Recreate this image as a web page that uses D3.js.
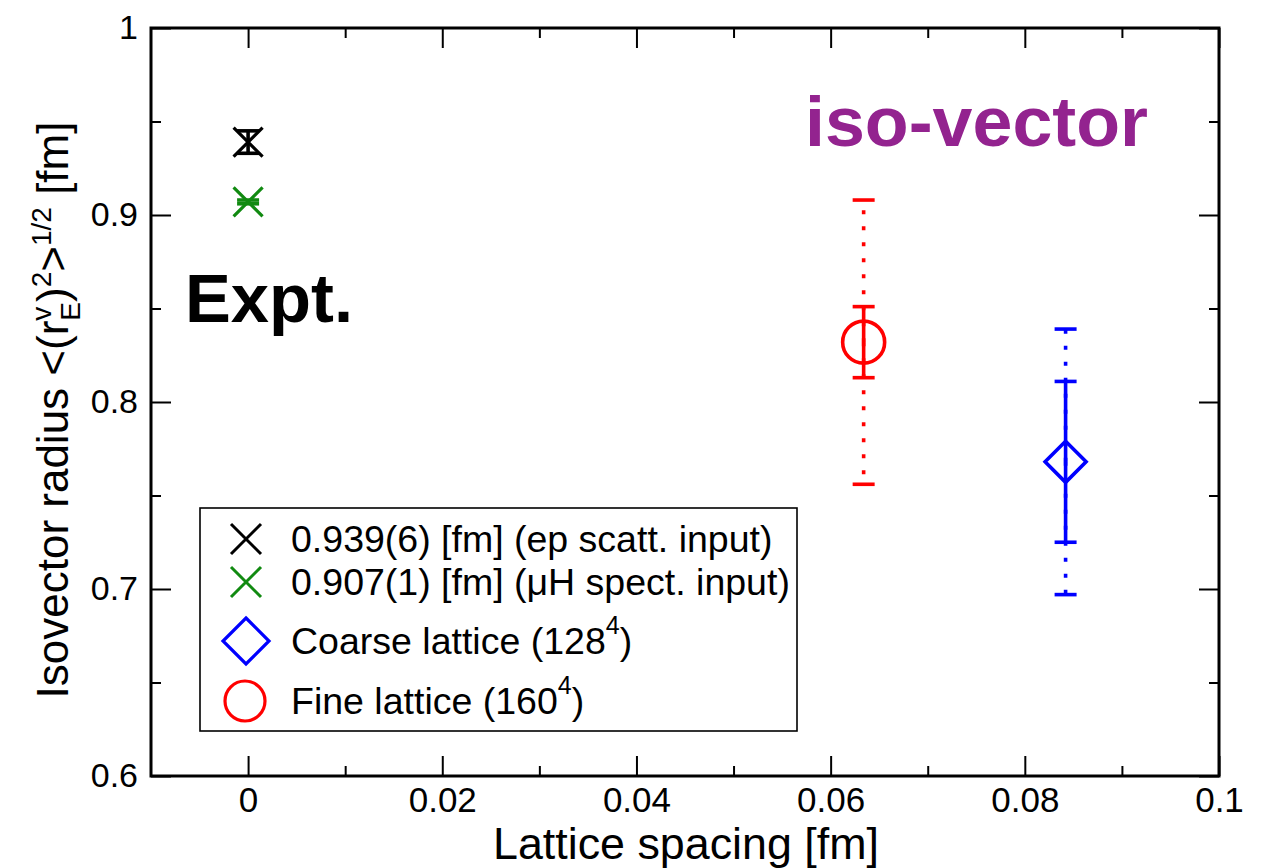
<!DOCTYPE html>
<html>
<head>
<meta charset="utf-8">
<script src="https://cdn.jsdelivr.net/npm/d3@7"></script>
<style>
  html, body { margin: 0; padding: 0; background: #fff; }
  svg { display: block; }
  text { font-family: "Liberation Sans", Arial, Helvetica, sans-serif; }
</style>
</head>
<body>
<svg id="chart" width="1277" height="868"></svg>
<script>
// Experimental inputs (plotted at zero lattice spacing)
const exptLabels  = ["0.939(6) [fm] (ep scatt. input)", "0.907(1) [fm] (\u03bcH spect. input)"];
const exptSpacing = [0, 0];
const exptRadius  = [0.939, 0.907];
const exptError   = [0.006, 0.001];
const exptColors  = ["#000000", "#118a11"];

// Lattice results: coarse (128^4) and fine (160^4)
const latticeNames    = ["Coarse lattice (128", "Fine lattice (160"];
const latticeSpacing  = [0.0842, 0.0634];
const latticeRadius   = [0.768, 0.832];
const latticeStatErr  = [0.043, 0.019];
const latticeTotalErr = [0.071, 0.076];
const latticeColors   = ["#0000ff", "#ff0000"];
const latticeShapes   = ["diamond", "circle"];

// Axis ticks
const xMajorTicks  = [0, 0.02, 0.04, 0.06, 0.08, 0.1];
const xTickLabels  = ["0", "0.02", "0.04", "0.06", "0.08", "0.1"];
const xMinorTicks  = [0.01, 0.03, 0.05, 0.07, 0.09];
const yMajorTicks  = [0.6, 0.7, 0.8, 0.9, 1.0];
const yTickLabels  = ["0.6", "0.7", "0.8", "0.9", "1"];
const yMinorTicks  = [0.65, 0.75, 0.85, 0.95];

const svg = d3.select("#chart");
const plotLeft = 151, plotRight = 1219, plotTop = 28, plotBottom = 776;

const x = d3.scaleLinear().domain([-0.01, 0.1]).range([plotLeft, plotRight]);
const y = d3.scaleLinear().domain([0.6, 1.0]).range([plotBottom, plotTop]);

// ---- axes (ticks pointing inward on all four sides)
function styleAxis(g, fontSize) {
  g.select(".domain").remove();
  g.selectAll(".tick line").attr("stroke", "#000").attr("stroke-width", 2);
  g.selectAll(".tick text").attr("fill", "#000")
    .style("font-family", '"Liberation Sans", Arial, Helvetica, sans-serif')
    .style("font-size", fontSize + "px");
}

svg.append("g").attr("transform", `translate(0,${plotBottom})`)
  .call(d3.axisBottom(x).tickValues(xMajorTicks).tickSize(-20).tickPadding(11)
    .tickFormat((d, i) => xTickLabels[i]))
  .call(g => styleAxis(g, 35));
svg.append("g").attr("transform", `translate(0,${plotBottom})`)
  .call(d3.axisBottom(x).tickValues(xMinorTicks).tickSize(-10).tickFormat(""))
  .call(g => styleAxis(g, 35));
svg.append("g").attr("transform", `translate(0,${plotTop})`)
  .call(d3.axisTop(x).tickValues(xMajorTicks).tickSize(-20).tickFormat(""))
  .call(g => styleAxis(g, 35));
svg.append("g").attr("transform", `translate(0,${plotTop})`)
  .call(d3.axisTop(x).tickValues(xMinorTicks).tickSize(-10).tickFormat(""))
  .call(g => styleAxis(g, 35));

svg.append("g").attr("transform", `translate(${plotLeft},0)`)
  .call(d3.axisLeft(y).tickValues(yMajorTicks).tickSize(-20).tickPadding(13)
    .tickFormat((d, i) => yTickLabels[i]))
  .call(g => styleAxis(g, 34));
svg.append("g").attr("transform", `translate(${plotLeft},0)`)
  .call(d3.axisLeft(y).tickValues(yMinorTicks).tickSize(-10).tickFormat(""))
  .call(g => styleAxis(g, 34));
svg.append("g").attr("transform", `translate(${plotRight},0)`)
  .call(d3.axisRight(y).tickValues(yMajorTicks).tickSize(-20).tickFormat(""))
  .call(g => styleAxis(g, 34));
svg.append("g").attr("transform", `translate(${plotRight},0)`)
  .call(d3.axisRight(y).tickValues(yMinorTicks).tickSize(-10).tickFormat(""))
  .call(g => styleAxis(g, 34));

// frame
svg.append("rect")
  .attr("x", plotLeft).attr("y", plotTop)
  .attr("width", plotRight - plotLeft).attr("height", plotBottom - plotTop)
  .attr("fill", "none").attr("stroke", "#000").attr("stroke-width", 3);

// ---- axis titles
svg.append("text")
  .attr("x", (plotLeft + plotRight) / 2 + 1).attr("y", 859)
  .attr("text-anchor", "middle")
  .style("font-size", "44px")
  .attr("textLength", 386).attr("lengthAdjust", "spacingAndGlyphs")
  .text("Lattice spacing [fm]");

const yTitle = svg.append("text")
  .attr("transform", `translate(68,${(plotTop + plotBottom) / 2 + 8}) rotate(-90)`)
  .attr("text-anchor", "middle")
  .style("font-size", "44px");
yTitle.append("tspan").text("Isovector radius <(r");
yTitle.append("tspan").attr("dy", -17).style("font-size", "28px").text("v");
yTitle.append("tspan").attr("dx", -14).attr("dy", 29).style("font-size", "28px").text("E");
yTitle.append("tspan").attr("dy", -12).text(")");
yTitle.append("tspan").attr("dy", -17).style("font-size", "28px").text("2");
yTitle.append("tspan").attr("dy", 17).text(">");
yTitle.append("tspan").attr("dy", -17).style("font-size", "28px").text("1/2");
yTitle.append("tspan").attr("dy", 17).text(" [fm]");

// ---- annotations
svg.append("text")
  .attr("x", 185).attr("y", 322)
  .style("font-size", "68px").style("font-weight", "bold")
  .attr("textLength", 168).attr("lengthAdjust", "spacingAndGlyphs")
  .text("Expt.");

svg.append("text")
  .attr("x", 805).attr("y", 146)
  .style("font-size", "71px").style("font-weight", "bold")
  .attr("fill", "#93238f")
  .attr("textLength", 343).attr("lengthAdjust", "spacingAndGlyphs")
  .text("iso-vector");

// ---- marker drawing helpers
const capHalf = 11;
function cross(g, cx, cy, h, color, sw) {
  g.append("path")
    .attr("d", `M${cx - h},${cy - h}L${cx + h},${cy + h}M${cx - h},${cy + h}L${cx + h},${cy - h}`)
    .attr("stroke", color).attr("stroke-width", sw).attr("fill", "none");
}
function diamond(g, cx, cy, h, color, sw) {
  g.append("path")
    .attr("d", `M${cx},${cy - h}L${cx + h},${cy}L${cx},${cy + h}L${cx - h},${cy}Z`)
    .attr("stroke", color).attr("stroke-width", sw).attr("fill", "none");
}
function circle(g, cx, cy, r, color, sw) {
  g.append("circle").attr("cx", cx).attr("cy", cy).attr("r", r)
    .attr("stroke", color).attr("stroke-width", sw).attr("fill", "none");
}
function errorBar(g, cx, y0, y1, color, sw, dotted) {
  const cy = (y0 + y1) / 2;
  if (dotted) {
    [y0, y1].forEach(yEnd => {
      g.append("line").attr("x1", cx).attr("x2", cx).attr("y1", cy).attr("y2", yEnd)
        .attr("stroke", color).attr("stroke-width", sw)
        .attr("stroke-dasharray", "4 12");
    });
  } else {
    g.append("line").attr("x1", cx).attr("x2", cx).attr("y1", y0).attr("y2", y1)
      .attr("stroke", color).attr("stroke-width", sw);
  }
  [y0, y1].forEach(yc => {
    g.append("line").attr("x1", cx - capHalf).attr("x2", cx + capHalf)
      .attr("y1", yc).attr("y2", yc)
      .attr("stroke", color).attr("stroke-width", sw);
  });
}

const marks = svg.append("g");

// experimental points
exptRadius.forEach((r, i) => {
  const cx = x(exptSpacing[i]), cy = y(r);
  errorBar(marks, cx, y(r + exptError[i]), y(r - exptError[i]), exptColors[i], 3.6, false);
  cross(marks, cx, cy, 14.5, exptColors[i], 3.2);
});

// lattice points: dotted total error, solid statistical error
latticeRadius.forEach((r, i) => {
  const cx = x(latticeSpacing[i]), cy = y(r);
  const c = latticeColors[i];
  errorBar(marks, cx, y(r + latticeTotalErr[i]), y(r - latticeTotalErr[i]), c, 3.6, true);
  errorBar(marks, cx, y(r + latticeStatErr[i]), y(r - latticeStatErr[i]), c, 3.6, false);
  if (latticeShapes[i] === "diamond") diamond(marks, cx, cy, 20.5, c, 3.6);
  else circle(marks, cx, cy, 21, c, 3.6);
});

// ---- legend
const legend = svg.append("g");
legend.append("rect")
  .attr("x", 200).attr("y", 508).attr("width", 597).attr("height", 223)
  .attr("fill", "#fff").attr("stroke", "#000").attr("stroke-width", 1.6);

const legendRows = [539, 582, 641, 701];
const legendSymX = 246, legendTextX = 291;

exptLabels.forEach((lab, i) => {
  cross(legend, legendSymX, legendRows[i], 15, exptColors[i], 3);
  legend.append("text").attr("x", legendTextX).attr("y", legendRows[i] + 13)
    .style("font-size", "37.5px").text(lab);
});
latticeNames.forEach((lab, i) => {
  const ry = legendRows[2 + i];
  if (latticeShapes[i] === "diamond") diamond(legend, legendSymX, ry, 23, latticeColors[i], 3.2);
  else circle(legend, legendSymX - 1, ry, 20, latticeColors[i], 3.2);
  const t = legend.append("text").attr("x", legendTextX).attr("y", ry + 13)
    .style("font-size", "37.5px");
  t.append("tspan").text(lab);
  t.append("tspan").attr("dy", -20).style("font-size", "25px").text("4");
  t.append("tspan").attr("dy", 20).text(")");
});
</script>
</body>
</html>
